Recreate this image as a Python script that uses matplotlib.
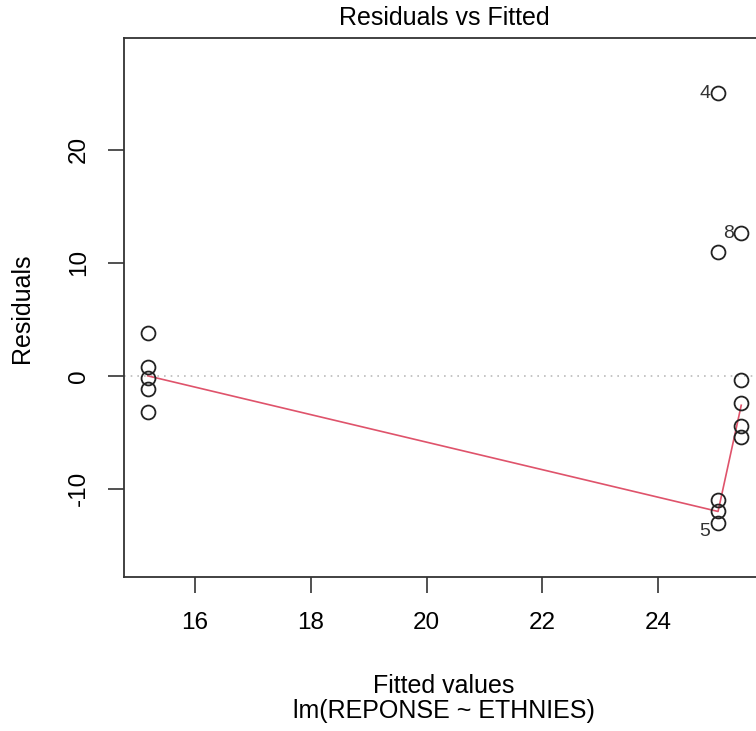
import numpy as np
import matplotlib.pyplot as plt

plt.rcParams['font.family'] = ['Liberation Sans', 'DejaVu Sans']
plt.rcParams['axes.unicode_minus'] = False

# Valeurs
fitted = [15.19] * 5 + [25.03] * 5 + [25.43] * 5
residuals = [3.8, 0.8, -0.2, -1.2, -3.2,
             25.0, 11.0, -11.0, -12.0, -13.0,
             12.6, -0.4, -2.4, -4.4, -5.4]
labels = {5: '4', 9: '5', 10: '8'}  # index -> numéro d'observation

# Courbe lissée (lowess)
smooth_x = [15.19, 25.03, 25.43]
smooth_y = [0.0, -12.0, -2.6]

x_ticks = [16, 18, 20, 22, 24]
y_ticks = [-10, 0, 10, 20]

W, H = 756, 731
fig = plt.figure(figsize=(W / 100, H / 100), dpi=100)
ax = fig.add_axes([124 / W, (H - 577) / H, (765 - 124) / W, (577 - 38) / H])

ax.axhline(0, color='#bbbbbb', linestyle=(0, (1, 3)), linewidth=1.2, zorder=1)
ax.plot(smooth_x, smooth_y, color='#DF536B', linewidth=1.2, zorder=2)
ax.plot(fitted, residuals, linestyle='none', marker='o', markersize=10,
        markerfacecolor='none', markeredgecolor='#222222', markeredgewidth=1.3, zorder=3)

for i, lab in labels.items():
    ax.text(fitted[i] - 0.13, residuals[i] - (0.8 if lab == '5' else 0), lab,
            ha='right', va='center', fontsize=14, color='#333333')

ax.set_xlim(14.78, 25.84)
ax.set_ylim(-17.8, 29.9)
ax.set_xticks(x_ticks)
ax.set_yticks(y_ticks)
ax.tick_params(length=11.5, width=1.2, color='#333333', labelsize=17.5)
ax.tick_params(axis='x', pad=14)
ax.tick_params(axis='y', pad=13)
for lab in ax.get_yticklabels():
    lab.set_rotation(90)
    lab.set_va('center')
for sp in ax.spines.values():
    sp.set_color('#333333')
    sp.set_linewidth(1.3)

fig.text(444 / W, 1 - 18 / H, 'Residuals vs Fitted', ha='center', va='center', fontsize=18)
fig.text(444 / W, 1 - 686 / H, 'Fitted values', ha='center', va='center', fontsize=18)
fig.text(444 / W, 1 - 711 / H, 'lm(REPONSE ~ ETHNIES)', ha='center', va='center', fontsize=18)
fig.text(22 / W, 1 - 308 / H, 'Residuals', ha='center', va='center', rotation=90, fontsize=18)

fig.savefig('out.png', dpi=100)
